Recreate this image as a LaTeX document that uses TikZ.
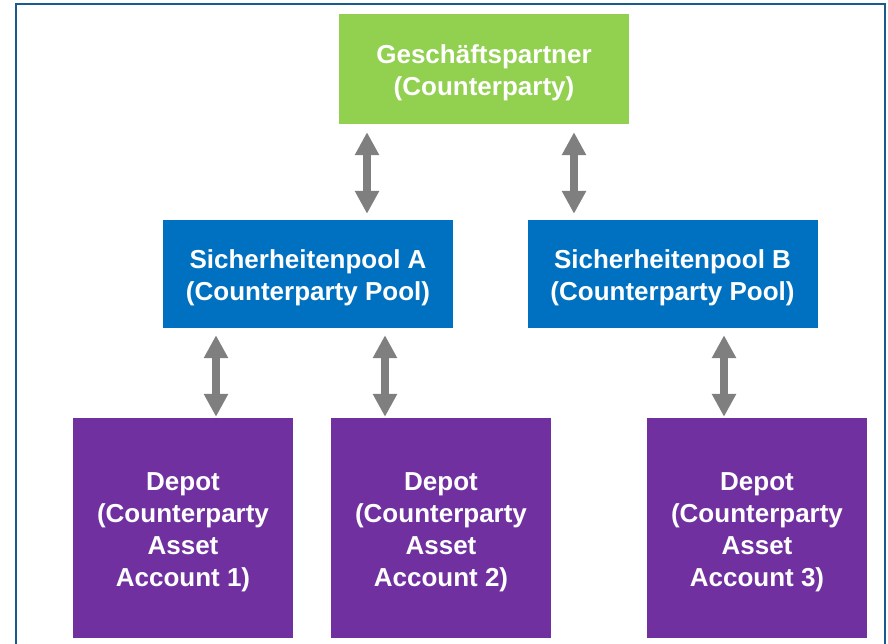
\documentclass[tikz,border=0pt]{standalone}
\usepackage{fontspec}
\setmainfont{Liberation Sans}
\usepackage{tikz}
\usetikzlibrary{arrows.meta,positioning,calc}
\definecolor{gpgreen}{HTML}{92D050}
\definecolor{poolblue}{HTML}{0070C0}
\definecolor{depotpurple}{HTML}{7030A0}
\definecolor{framecol}{HTML}{1B5B8C}
\definecolor{arrowgray}{HTML}{7F7F7F}
\newcommand{\boxtext}[1]{\raisebox{-4pt}[\height][\depth]{\begin{tabular}{@{}c@{}}#1\end{tabular}}}
\tikzstyle{box}=[inner sep=0pt,align=center,text=white,font=\fontsize{26}{32}\selectfont\bfseries]
\tikzstyle{partner}=[box,fill=gpgreen,minimum width=290pt,minimum height=110pt]
\tikzstyle{pool}=[box,fill=poolblue,minimum width=290pt,minimum height=108pt]
\tikzstyle{depot}=[box,fill=depotpurple,minimum width=220pt,minimum height=220pt]
\tikzstyle{dblarrow}=[draw=arrowgray,line width=8pt,{Triangle[length=23pt,width=23pt,fill=arrowgray]}-{Triangle[length=23pt,width=23pt,fill=arrowgray]}]
\begin{document}
\begin{tikzpicture}[x=1pt,y=-1pt]
  \useasboundingbox (0,0) rectangle (888,643);
  \draw[framecol,line width=2pt] (16,4) rectangle (885,670);

  \node[partner] (gp) at (484,69) {\boxtext{Geschäftspartner\\(Counterparty)}};
  \node[pool] (pa) at (308,274) {\boxtext{Sicherheitenpool A\\(Counterparty Pool)}};
  \node[pool] (pb) at (672.5,274) {\boxtext{Sicherheitenpool B\\(Counterparty Pool)}};

  \node[depot] (d1) at (183,528) {\boxtext{Depot\\(Counterparty\\Asset\\Account 1)}};
  \node[depot] (d2) at (441,528) {\boxtext{Depot\\(Counterparty\\Asset\\Account 2)}};
  \node[depot] (d3) at (757,528) {\boxtext{Depot\\(Counterparty\\Asset\\Account 3)}};

  % arrow positions
  \coordinate (c1) at (367,0);
  \coordinate (c2) at (574,0);
  \coordinate (c3) at (216,0);
  \coordinate (c4) at (385,0);
  \coordinate (c5) at (724,0);

  \draw[dblarrow,shorten <=8pt,shorten >=6pt] (gp.south -| c1) -- (pa.north -| c1);
  \draw[dblarrow,shorten <=8pt,shorten >=6pt] (gp.south -| c2) -- (pb.north -| c2);
  \draw[dblarrow,shorten <=7pt,shorten >=1pt] (pa.south -| c3) -- (d1.north -| c3);
  \draw[dblarrow,shorten <=7pt,shorten >=1pt] (pa.south -| c4) -- (d2.north -| c4);
  \draw[dblarrow,shorten <=7pt,shorten >=1pt] (pb.south -| c5) -- (d3.north -| c5);
\end{tikzpicture}
\end{document}
